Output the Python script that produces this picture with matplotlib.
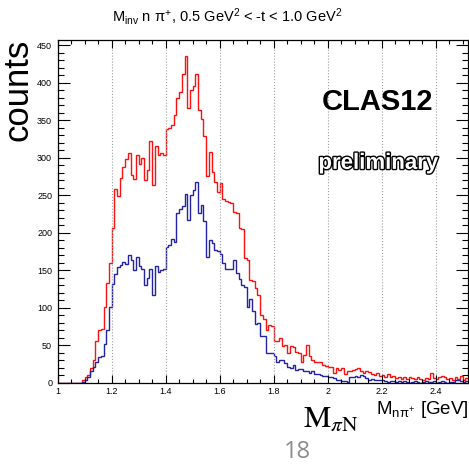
import numpy as np
import matplotlib
matplotlib.use('Agg')
import matplotlib.pyplot as plt
import matplotlib.patheffects as pe
from matplotlib.ticker import MultipleLocator

# binning of the M(n pi+) histograms, GeV
bin_lo = 1.0
bin_w = 0.01

# counts per bin, 1.00 .. 2.52 GeV
red_counts = [
    0, 0, 0, 0, 0, 0, 0, 0, 0, 4,
    7, 10, 19, 30, 55, 70, 72, 101, 133, 159,
    206, 258, 249, 273, 288, 298, 306, 277, 271, 304,
    292, 299, 270, 284, 322, 264, 316, 304, 306, 304,
    338, 340, 344, 357, 380, 388, 412, 436, 366, 390,
    395, 411, 364, 352, 329, 275, 308, 281, 268, 254,
    266, 245, 242, 241, 239, 227, 226, 206, 205, 166,
    163, 137, 136, 126, 117, 90, 85, 70, 77, 76,
    55, 56, 59, 49, 50, 40, 49, 48, 41, 39,
    28, 37, 50, 35, 30, 28, 27, 27, 24, 22,
    21, 21, 13, 19, 17, 19, 12, 15, 15, 17,
    18, 19, 15, 13, 16, 14, 12, 10, 13, 9,
    10, 8, 12, 7, 9, 6, 8, 5, 7, 5,
    7, 6, 5, 7, 5, 4, 6, 5, 13, 6,
    5, 8, 9, 7, 5, 6, 4, 7, 5, 9,
    4, 6,
]
blue_counts = [
    0, 0, 0, 0, 0, 0, 0, 0, 0, 1,
    4, 8, 15, 21, 27, 34, 36, 52, 70, 101,
    132, 145, 154, 157, 161, 158, 170, 164, 150, 167,
    155, 152, 130, 139, 152, 117, 155, 148, 150, 152,
    181, 184, 192, 188, 226, 232, 235, 252, 217, 250,
    257, 267, 226, 237, 215, 167, 190, 186, 177, 175,
    172, 160, 152, 151, 152, 164, 146, 138, 130, 128,
    101, 112, 95, 78, 80, 62, 62, 39, 39, 39,
    35, 28, 30, 30, 26, 21, 19, 24, 17, 18,
    18, 15, 15, 13, 15, 12, 12, 10, 9, 9,
    8, 8, 6, 4, 4, 2, 2, 1, 8, 8,
    9, 8, 10, 9, 6, 4, 5, 4, 3, 4,
    3, 2, 1, 2, 2, 1, 2, 1, 2, 1,
    0, 1, 2, 1, 0, 1, 2, 1, 1, 2,
    0, 1, 2, 1, 0, 1, 1, 3, 4, 2,
    1, 2,
]

x_ticks = [1.0, 1.2, 1.4, 1.6, 1.8, 2.0, 2.2, 2.4]
x_labels = ['1', '1.2', '1.4', '1.6', '1.8', '2', '2.2', '2.4']
y_ticks = [0, 50, 100, 150, 200, 250, 300, 350, 400, 450]

plt.rcParams['font.family'] = ['Liberation Sans', 'DejaVu Sans']
plt.rcParams['mathtext.fontset'] = 'custom'
plt.rcParams['mathtext.rm'] = 'Liberation Sans'
plt.rcParams['mathtext.it'] = 'Liberation Sans'
plt.rcParams['mathtext.sf'] = 'Liberation Sans'

edges = bin_lo + bin_w * np.arange(len(red_counts) + 1)

fig = plt.figure(figsize=(4.69, 4.65), dpi=100)
ax = fig.add_axes([0.123, 0.177, 0.875, 0.737])

ax.stairs(red_counts, edges, color='#ff1010', linewidth=1.0, baseline=None)
ax.stairs(blue_counts, edges, color='#2323a3', linewidth=1.0, baseline=None)

ax.set_xlim(1.0, 2.52)
ax.set_ylim(0, 457)
ax.set_xticks(x_ticks)
ax.set_xticklabels(x_labels)
ax.set_yticks(y_ticks)
ax.xaxis.set_minor_locator(MultipleLocator(0.05))
ax.yaxis.set_minor_locator(MultipleLocator(10))
ax.tick_params(axis='both', which='both', direction='in', top=True, right=True,
               labelsize=6.5, width=0.8)
ax.tick_params(axis='x', which='major', length=5.5, pad=3)
ax.tick_params(axis='x', which='minor', length=3)
ax.tick_params(axis='y', which='major', length=8.5, pad=4)
ax.tick_params(axis='y', which='minor', length=4.5)
ax.grid(axis='x', which='major', linestyle=':', color='#a0a0a0', linewidth=0.8)
for s in ax.spines.values():
    s.set_linewidth(0.9)

fig.text(0.484, 0.965, r'M$_{\mathrm{inv}}$ n $\pi^{+}$, 0.5 GeV$^{2}$ < -t < 1.0 GeV$^{2}$',
         ha='center', va='center', fontsize=10.5)
fig.text(0.038, 0.807, 'counts', rotation=90, ha='center', va='center', fontsize=25)

ax.text(0.78, 0.819, 'CLAS12', transform=ax.transAxes, ha='center', va='center',
        fontsize=21, fontweight='bold', color='black')
ax.text(0.781, 0.64, 'preliminary', transform=ax.transAxes, ha='center', va='center',
        fontsize=16, fontweight='bold', color='white',
        path_effects=[pe.withStroke(linewidth=2.0, foreground='black')])

fig.text(0.706, 0.1, r'$\mathrm{M}_{\pi\mathrm{N}}$', ha='center', va='center',
         fontsize=22, math_fontfamily='stix')
fig.text(0.999, 0.119, r'M$_{\mathrm{n}\pi^{+}}$ [GeV]', ha='right', va='center',
         fontsize=13.5)
fig.text(0.633, 0.028, '18', ha='center', va='center', fontsize=17,
         color='#8c8c8c', family=['Open Sans', 'DejaVu Sans'])

fig.savefig('out.png', dpi=100)
